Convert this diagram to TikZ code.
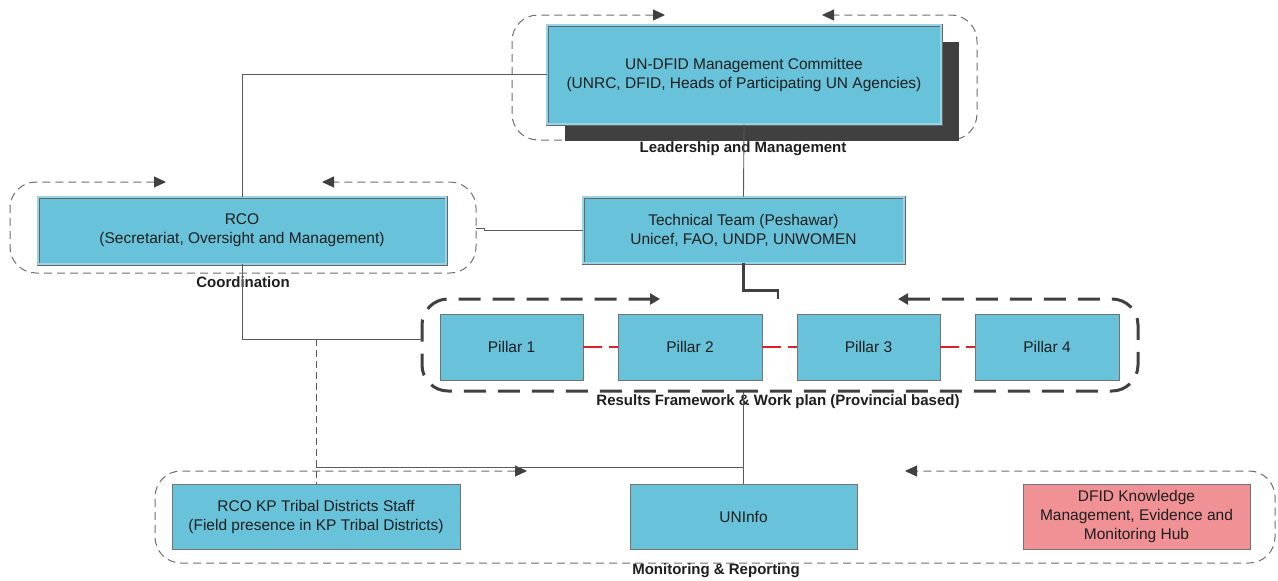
\documentclass[tikz,border=0pt]{standalone}
\usepackage{fontspec}
\setmainfont{Liberation Sans}
\usetikzlibrary{positioning}
\usetikzlibrary{calc}
\usetikzlibrary{arrows.meta}
\definecolor{boxblue}{RGB}{104,195,218}
\definecolor{hubpink}{RGB}{240,145,150}
\definecolor{framegray}{RGB}{110,110,110}
\definecolor{darkline}{RGB}{64,64,64}
\definecolor{linkred}{RGB}{228,30,40}
\definecolor{textgray}{RGB}{30,30,30}

\begin{document}
\begin{tikzpicture}[x=1pt, y=-1pt, align=center, font=\fontsize{15.5}{19}\selectfont, text=textgray,
	dbnode/.style={rectangle,draw=black!60,double=boxblue!70!white,double distance=1.6pt,line width=0.7pt,fill=boxblue,inner sep=0pt},
	sqnode/.style={rectangle,draw=black!55,fill=boxblue,line width=0.8pt,inner sep=0pt,minimum height=66pt},
	grplab/.style={font=\fontsize{15}{18}\selectfont\bfseries},
	grp/.style={draw=framegray,dash pattern=on 8pt off 5pt,line width=1pt,rounded corners=26pt,>={Triangle[length=12pt,width=11pt,color=darkline]}},
	grpthick/.style={draw=darkline,dash pattern=on 22pt off 12pt,line width=3pt,rounded corners=26pt,>={Triangle[length=10pt,width=11pt]}},
	conn/.style={draw=black!65,line width=0.9pt},
	thickconn/.style={draw=darkline,line width=2.5pt},
	redlink/.style={draw=linkred,line width=1.3pt,dash pattern=on 19pt off 7pt}]
	\useasboundingbox (0,0) rectangle (1278,581);
	% \draw[help lines] (0,0) grid[step=50] (1278,581);

	% group frames
	\draw[grp,<->] (665,15) -- (512,15) -- (512,140) -- (977,140) -- (977,15) -- (822,15);
	\draw[grp,<->] (166,182) -- (10,182) -- (10,273) -- (476,273) -- (476,182) -- (322,182);
	\draw[grpthick,<->] (660,299) -- (422,299) -- (422,391) -- (1138,391) -- (1138,299) -- (898,299);
	\draw[grp,<->] (527,471) -- (155,471) -- (155,563) -- (1275,563) -- (1275,471) -- (905,471);

	\coordinate (rcoport) at (476,228);
	\coordinate (resin) at (422,339);
	\coordinate (resin2) at (778,299);
	\coordinate (resout) at (743.5,392);

	% leadership
	\fill[darkline] (565,141) rectangle (959,42);
	\node[dbnode,minimum width=394pt,minimum height=99pt](mc) at (744,74.5){UN-DFID Management Committee\\(UNRC, DFID, Heads of Participating UN Agencies)};
	\node[grplab](mclab) at (743,149){Leadership and Management};

	% coordination
	\node[dbnode,minimum width=408pt,minimum height=67pt](rco) at (242,230.5){RCO\\(Secretariat, Oversight and Management)};
	\node[grplab](rcolab) at (243,282){Coordination};
	\node[dbnode,minimum width=321pt,minimum height=66pt](tt) at (743.5,230){Technical Team (Peshawar)\\Unicef, FAO, UNDP, UNWOMEN};

	% pillars
	\node[sqnode,minimum width=143pt](p1) at (511.5,347){Pillar 1};
	\node[sqnode,minimum width=144pt](p2) at (690,347){Pillar 2};
	\node[sqnode,minimum width=143pt](p3) at (868.5,347){Pillar 3};
	\node[sqnode,minimum width=144pt](p4) at (1047,347){Pillar 4};
	\node[grplab](reslab) at (778,402){Results Framework \& Work plan (Provincial based)};

	% monitoring
	\node[sqnode,minimum width=288pt,minimum height=65pt](kp) at (316,516.5){RCO KP Tribal Districts Staff\\(Field presence in KP Tribal Districts)};
	\node[sqnode,minimum width=227pt,minimum height=65pt](ui) at (743.5,516.5){UNInfo};
	\node[sqnode,minimum width=227pt,minimum height=65pt,fill=hubpink](hub) at (1136.5,516.5){DFID Knowledge\\Management, Evidence and\\Monitoring Hub};
	\node[grplab](monlab) at (716,571){Monitoring \& Reporting};

	% connectors
	\draw[conn] (mc.west) -| (rco.north);
	\draw[conn] (mc.south) -- (tt.north);
	\draw[conn] (tt.west) -- ++(-98,0) |- (rcoport);
	\draw[thickconn] (tt.south) -- ++(0,27) -| (resin2);
	\draw[conn] (rco.south) |- (resin);
	\draw[conn,dashed,dash pattern=on 7pt off 4pt] (kp.north |- resin) -- (kp.north);
	\draw[conn] (kp.north |- 0,467) -- (ui.north |- 0,467);
	\draw[conn] (resout) -- (ui.north);
	\draw[redlink] (p1.east) -- (p2.west);
	\draw[redlink] (p2.east) -- (p3.west);
	\draw[redlink] (p3.east) -- (p4.west);
\end{tikzpicture}
\end{document}
